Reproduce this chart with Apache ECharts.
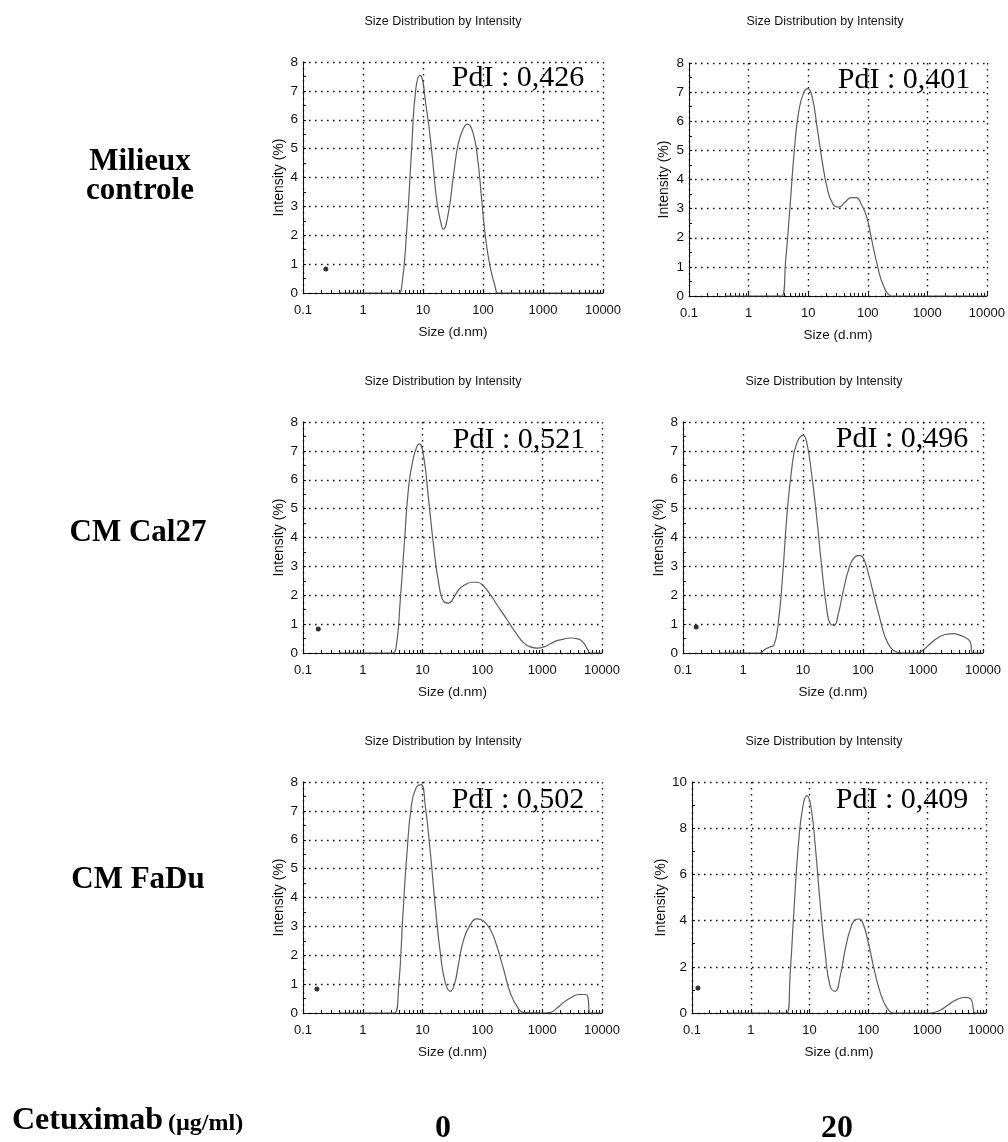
<!DOCTYPE html>
<html><head><meta charset="utf-8">
<script src="https://cdn.jsdelivr.net/npm/echarts@6/dist/echarts.min.js"></script>
<style>html,body{margin:0;padding:0;background:#fff}#c{width:1008px;height:1142px}</style>
</head><body><div id="c"></div>
<script>
// ---------- data ----------
const xTickValues = [0.1, 1, 10, 100, 1000, 10000];
const xTickLabels = ['0.1', '1', '10', '100', '1000', '10000'];
const panelTitle = 'Size Distribution by Intensity';
const xAxisName = 'Size (d.nm)';
const yAxisName = 'Intensity (%)';
const pdiLabels = ['PdI : 0,426', 'PdI : 0,401', 'PdI : 0,521', 'PdI : 0,496', 'PdI : 0,502', 'PdI : 0,409'];
const rowLabels = [['Milieux', 'controle'], ['CM Cal27'], ['CM FaDu']];
const colLabels = ['0', '20'];
const doseLabel = 'Cetuximab';
const doseUnit = '(µg/ml)';
const yMax = [8, 8, 8, 8, 8, 10];
const yInterval = [1, 1, 1, 1, 1, 2];

const p1Size = [0.4, 3.86, 4.40, 5.32, 6.45, 7.52, 8.89, 11.5, 13.9, 16.9, 19.7, 21.8, 26.4, 32.0, 38.8, 47.1, 54.9, 67.4, 80.6, 95.3, 108, 131, 159, 181, 10000];
const p1Int  = [0, 0, 0.2, 2.07, 4.95, 7.0, 7.54, 6.33, 4.95, 3.22, 2.47, 2.21, 2.76, 4.03, 5.18, 5.7, 5.85, 5.58, 4.72, 3.22, 2.07, 0.92, 0.23, 0, 0];

const p2Size = [0.4, 3.59, 4.19, 4.95, 5.92, 6.99, 8.47, 9.87, 11.7, 14.1, 17.1, 20.7, 25.8, 32.4, 41.9, 52.7, 63.9, 79.4, 96.2, 117, 147, 182, 236, 268, 10000];
const p2Int  = [0, 0, 1.22, 3.05, 5.11, 6.37, 7.0, 7.12, 6.83, 5.8, 4.66, 3.74, 3.17, 3.05, 3.23, 3.38, 3.38, 3.11, 2.71, 1.91, 1.0, 0.37, 0.02, 0, 0];

const p3Size = [0.4, 3.08, 3.59, 4.24, 4.95, 5.85, 6.91, 8.05, 8.81, 10.4, 12.6, 15.3, 18.6, 22.5, 27.3, 33.0, 40.1, 51.9, 67.0, 81.3, 105, 136, 175, 227, 293, 379, 490, 634, 819, 1059, 1368, 1770, 2286, 2958, 4074, 4937, 5754, 6383, 10000];
const p3Int  = [0, 0, 0.17, 1.85, 3.81, 5.77, 6.7, 7.16, 7.24, 6.81, 5.31, 3.70, 2.42, 1.79, 1.73, 1.91, 2.19, 2.37, 2.45, 2.45, 2.31, 2.02, 1.67, 1.33, 0.98, 0.64, 0.35, 0.21, 0.17, 0.21, 0.32, 0.43, 0.48, 0.52, 0.48, 0.35, 0.12, 0, 0];

const p4Size = [0.4, 1.91, 2.31, 2.80, 3.27, 3.86, 4.56, 5.32, 6.45, 7.82, 10.1, 11.5, 13.9, 16.9, 20.5, 24.8, 28.2, 32.9, 38.8, 47.1, 57.0, 69.2, 87.1, 102, 123, 149, 188, 234, 291, 366, 473, 790, 1021, 1318, 1706, 2350, 3236, 4180, 5405, 6143, 6805, 10000];
const p4Int  = [0, 0, 0.12, 0.21, 0.27, 1.02, 2.63, 4.6, 6.33, 7.25, 7.54, 7.31, 6.21, 4.71, 2.98, 1.54, 1.02, 0.96, 1.36, 2.17, 2.86, 3.27, 3.38, 3.27, 2.75, 2.06, 1.25, 0.55, 0.18, 0.03, 0, 0, 0.12, 0.32, 0.5, 0.64, 0.67, 0.61, 0.5, 0.38, 0, 0];

const p5Size = [0.4, 3.37, 3.98, 4.70, 5.48, 6.48, 7.76, 9.40, 11.1, 13.5, 16.3, 19.8, 24.0, 29.1, 34.0, 40.1, 48.6, 62.8, 81.3, 105, 136, 175, 227, 293, 379, 490, 1059, 1368, 1770, 2286, 2958, 4074, 5260, 5754, 6383, 10000];
const p5Int  = [0, 0, 0.92, 3.46, 5.54, 7.16, 7.79, 7.91, 7.16, 5.54, 3.70, 2.08, 1.04, 0.75, 0.98, 1.73, 2.54, 3.06, 3.26, 3.18, 2.89, 2.31, 1.50, 0.69, 0.23, 0.02, 0, 0.02, 0.17, 0.37, 0.52, 0.64, 0.64, 0.58, 0, 0];

const p6Size = [0.4, 4.11, 4.68, 5.47, 6.48, 7.69, 8.99, 10.5, 12.5, 15.1, 18.4, 22.4, 27.2, 33.1, 40.3, 49.0, 59.6, 70.5, 82.4, 100, 122, 148, 180, 219, 267, 1119, 1656, 2293, 3177, 4395, 5495, 6252, 6501, 10000];
const p6Int  = [0, 0, 1.73, 4.62, 7.36, 8.95, 9.41, 8.95, 7.22, 4.76, 2.60, 1.15, 0.94, 1.59, 2.74, 3.61, 4.04, 4.07, 3.82, 3.03, 2.02, 1.15, 0.51, 0.14, 0, 0, 0.12, 0.36, 0.58, 0.68, 0.61, 0.03, 0, 0];

// stray marker dot on each scan (size, intensity); panel 2 has none
const dotSize = [0.24, null, 0.18, 0.166, 0.171, 0.126];
const dotInt  = [0.83, null, 0.83, 0.9, 0.83, 1.08];

// ---------- layout ----------
const sizes = [p1Size, p2Size, p3Size, p4Size, p5Size, p6Size];
const ints  = [p1Int, p2Int, p3Int, p4Int, p5Int, p6Int];
const grids = [
  {left: 303, top: 62,  width: 300, height: 231},
  {left: 689, top: 63,  width: 300, height: 233},
  {left: 303, top: 422, width: 299, height: 231},
  {left: 683, top: 422, width: 300, height: 231},
  {left: 303, top: 782, width: 299, height: 231},
  {left: 692, top: 782, width: 294, height: 231}
];
const titlePos = [[443, 22], [825, 22], [443, 382], [824, 382], [443, 742], [824, 742]];
const pdiPos = [[518, 78], [904, 80], [519, 440], [902, 439], [518, 800], [902, 800]];
const yNameGap = [17, 18, 17, 17, 17, 24];

const minorTicks = [];
[0.1, 1, 10, 100, 1000].forEach(d => { for (let k = 2; k <= 9; k++) minorTicks.push(+(d * k).toPrecision(3)); });

const sans = 'Liberation Sans, Arial, sans-serif';
const serif = 'Liberation Serif, Times New Roman, serif';
const dotted = {color: '#111', type: [1.6, 4.4], width: 1.4};
const ink = '#111';

const xAxes = [], yAxes = [], series = [];
grids.forEach((g, i) => {
  xAxes.push({
    type: 'log', logBase: 10, gridIndex: i, min: 0.1, max: 10000, position: 'bottom',
    name: xAxisName, nameLocation: 'middle', nameGap: 32,
    nameTextStyle: {fontFamily: sans, fontSize: 13.5, color: ink},
    axisLine: {show: true, onZero: false, lineStyle: {color: ink, width: 1}},
    axisTick: {show: true, inside: true, length: 4, lineStyle: {color: ink}},
    minorTick: {show: false},
    axisLabel: {margin: 11, fontFamily: sans, fontSize: 13, color: ink,
      formatter: v => { let best = 0; xTickValues.forEach((t, k) => { if (Math.abs(Math.log10(v) - Math.log10(t)) < Math.abs(Math.log10(v) - Math.log10(xTickValues[best]))) best = k; }); return xTickLabels[best]; }},
    splitLine: {show: true, lineStyle: dotted}
  });
  xAxes.push({
    type: 'log', logBase: 10, gridIndex: i, min: 0.1, max: 10000, position: 'bottom',
    axisLine: {show: false}, axisLabel: {show: false}, splitLine: {show: false},
    axisTick: {show: true, inside: true, length: 3, customValues: minorTicks, lineStyle: {color: ink, width: 1}}
  });
  yAxes.push({
    type: 'value', gridIndex: i, min: 0, max: yMax[i], interval: yInterval[i],
    name: yAxisName, nameLocation: 'middle', nameGap: yNameGap[i],
    nameTextStyle: {fontFamily: sans, fontSize: 14, color: ink},
    axisLine: {show: true, lineStyle: {color: ink, width: 1}},
    axisTick: {show: true, inside: true, length: 3, lineStyle: {color: ink}},
    minorTick: {show: true, splitNumber: 2, length: 3, lineStyle: {color: ink}},
    axisLabel: {margin: 5, fontFamily: sans, fontSize: 13.5, color: ink},
    splitLine: {show: true, lineStyle: dotted}
  });
  series.push({
    type: 'line', xAxisIndex: 2 * i, yAxisIndex: i,
    data: sizes[i].map((s, k) => [s, ints[i][k]]),
    smooth: 0.5, showSymbol: false, symbol: 'none',
    lineStyle: {color: '#5e5e5e', width: 1.2}, clip: true, silent: true
  });
  if (dotSize[i] !== null) {
    series.push({
      type: 'scatter', xAxisIndex: 2 * i, yAxisIndex: i,
      data: [[dotSize[i], dotInt[i]]], symbolSize: 5, itemStyle: {color: '#000'}, silent: true
    });
  }
});

const texts = [];
titlePos.forEach(p => texts.push({type: 'text', x: p[0], y: p[1],
  style: {text: panelTitle, font: '12.5px ' + sans, fill: ink, textAlign: 'center', textVerticalAlign: 'middle'}}));
pdiPos.forEach((p, i) => texts.push({type: 'text', x: p[0], y: p[1],
  style: {text: pdiLabels[i], font: '30px ' + serif, fill: '#000', textAlign: 'center', textVerticalAlign: 'middle'}}));
const rowPos = [[[140, 162], [140, 191]], [[138, 533]], [[138, 880]]];
rowLabels.forEach((lines, r) => lines.forEach((t, k) => texts.push({type: 'text', x: rowPos[r][k][0], y: rowPos[r][k][1],
  style: {text: t, font: 'bold 31px ' + serif, fill: '#000', textAlign: 'center', textVerticalAlign: 'middle'}})));
texts.push({type: 'text', x: 12, y: 1121, style: {text: doseLabel, font: 'bold 32px ' + serif, fill: '#000', textAlign: 'left', textVerticalAlign: 'middle'}});
texts.push({type: 'text', x: 168, y: 1124, style: {text: doseUnit, font: 'bold 24px ' + serif, fill: '#000', textAlign: 'left', textVerticalAlign: 'middle'}});
const colPos = [[443, 1129], [837, 1129]];
colLabels.forEach((t, k) => texts.push({type: 'text', x: colPos[k][0], y: colPos[k][1],
  style: {text: t, font: 'bold 32px ' + serif, fill: '#000', textAlign: 'center', textVerticalAlign: 'middle'}}));

const chart = echarts.init(document.getElementById('c'), null, {renderer: 'canvas'});
chart.setOption({
  animation: false,
  backgroundColor: '#fff',
  grid: grids.map(g => Object.assign({containLabel: false}, g)),
  xAxis: xAxes, yAxis: yAxes, series: series,
  graphic: {elements: texts}
});
</script></body></html>
